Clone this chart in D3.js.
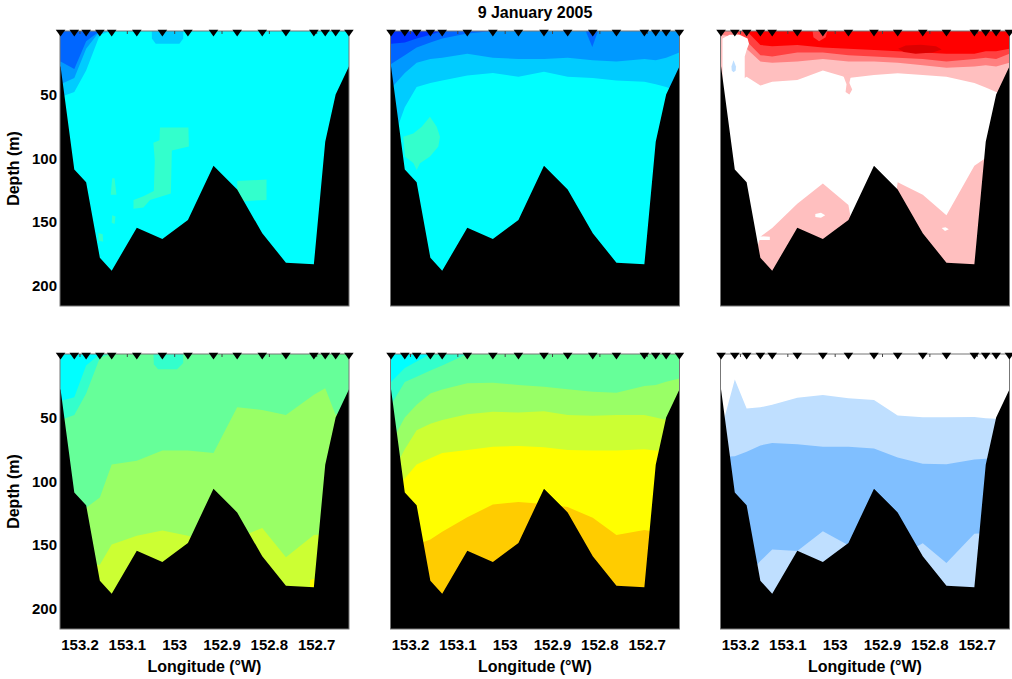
<!DOCTYPE html>
<html><head><meta charset="utf-8">
<script src="https://cdn.jsdelivr.net/npm/d3@7"></script>
<style>html,body{margin:0;padding:0;background:#fff;}svg{display:block;}text{font-family:"Liberation Sans",Arial,Helvetica,sans-serif;font-weight:bold;fill:#000;}</style>
</head><body>
<svg id="chart" width="1012" height="679"></svg>
<script>
// ---------- shared values ----------
const title = "9 January 2005";
const stationLon = [153.241,153.212,153.187,153.158,153.133,153.080,153.026,152.972,152.918,152.868,152.815,152.765,152.706,152.682,152.660,152.632];
const seafloorDepth = [28,109,119,178.5,188.7,154.9,163.8,148.8,106,124.7,159.3,182.4,183.7,87.1,49.9,28];
const lonTicks = [153.2,153.1,153,152.9,152.8,152.7];
const lonTickLabels = ["153.2","153.1","153","152.9","152.8","152.7"];
const depthTicks = [50,100,150,200];
const lonDomain = [153.2422,152.6318];
const depthDomain = [0,216.5];
const xLabel = "Longitude (\u00B0W)";
const yLabel = "Depth (m)";

// ---------- panel 1 (top left) : isoline depths at stations ----------
const p1Top00ccff = [52,48,31,3,0,0,0,0,0,0,0,0,0,0,0,0];
const p1Top0099ff = [42,37,14,0,0,0,0,0,0,0,0,0,0,0,0,0];
const p1Top0066ff = [24,30,8,0,0,0,0,0,0,0,0,0,0,0,0,0];
const p1Patch00ccff = [[153.0485,-1],[153.048,6],[153.040,10],[152.990,10],[152.982,6],[152.9817,-1]];
const p1Patch33ffccA = [[153.031,76],[152.971,76],[152.970,91],[153.006,94],[153.008,128],[153.052,133],[153.066,139],[153.087,140],[153.087,133],[153.066,130],[153.044,126],[153.042,102],[153.045,88],[153.032,86]];
const p1Patch33ffccB = [[152.868,118],[152.806,117],[152.806,133],[152.855,134],[152.868,129]];
const p1Patch33ffccC = [[153.132,116],[153.127,116],[153.123,129],[153.135,129]];
const p1Patch33ffccD = [[153.132,145],[153.125,146],[153.127,152],[153.133,151]];
const p1Patch33ffccE = [[153.161,159],[153.152,160],[153.151,166],[153.161,165]];

// ---------- panel 2 (top middle) ----------
const p2Top00ccff = [90,60,44,41,39,35,33,36,32,36,37,39,40,42,44,48];
const p2Top0099ff = [45,33,25,22,21,18,21,22,22,21,23,24,22,23,21,17];
const p2Top0066ff = [26,19,13,9,6,2,0,0,0,0,0,0,0,0,0,0];
const p2Top0033ff = [10,9,6,3,0,0,0,0,0,0,0,0,0,0,0,0];
const p2Patch0066ff = [[152.831,-1],[152.816,12.5],[152.803,-1]];
const p2Patch33ffcc = [[153.1588,67.5],[153.1446,75.3],[153.1376,83.2],[153.1412,91],[153.1588,98.9],[153.1799,104.2],[153.1869,109.4],[153.194,104],[153.2116,98.9],[153.2152,83.2],[153.194,80.6],[153.1763,75.3]];

// ---------- panel 3 (top right) ----------
const p3TopFFBFBF = [45,42,36,43,40,38.6,31,37,34.6,33.3,34.6,36,41,44.4,48,52];
const p3TopFF8080 = [3,5,14,24,25,24,22,24,24,25,27,29,28,27,28,25];
const p3TopFF4040 = [0,0,8,19,20,17,17,19,20,21,22,24,22,21,22,18];
const p3TopFF0000 = [0,0,0,11,12,11,13,14,15,16,17,18,18,16,16,14];
const p3BotFFBFBF = [250,250,200,162,155,136,120,137,250,119,129,145,106,100,100,100];
const p3PatchWhiteColumn = [[153.238,6],[153.223,3],[153.202,3],[153.185,6],[153.182,10],[153.187,15],[153.191,20],[153.191,40],[153.187,60],[153.238,60]];
const p3PatchBlueDrop = [[153.2147,23],[153.2095,28],[153.210,31],[153.2147,32.5],[153.2185,31],[153.219,28]];
const p3PatchFF4040 = [[153.048,-1],[153.046,5],[153.034,8],[153.020,5],[153.016,-1]];
const p3PatchDD0000 = [[152.867,14],[152.851,11.5],[152.819,10.8],[152.787,12],[152.775,14.5],[152.794,17],[152.830,18],[152.855,16.5]];
const p3PatchDrip = [[152.984,34],[152.976,42],[152.978,48],[152.970,50],[152.964,46],[152.970,41],[152.966,34]];
const p3SpeckA = [[153.042,144],[153.030,143],[153.021,145],[153.030,147],[153.042,146.5]];
const p3SpeckB = [[152.775,155],[152.767,154.5],[152.760,156],[152.768,157.5]];
const p3SpeckC = [[153.162,161.5],[153.138,162],[153.138,164.5],[153.162,164.5]];

// ---------- panel 4 (bottom left) ----------
const p4Bot99ff66 = [130,125,121,113,87,84,76,76,78,42,44,48,32,27,48,40];
const p4BotCcff33 = [250,250,166,166,150,143,139,143,150,145,137,160,142.5,142,142,142];
const p4Top33ffcc = [52,48,31,3,0,0,0,0,0,0,0,0,0,0,0,0];
const p4Top00ffff = [37,34,9,0,0,0,0,0,0,0,0,0,0,0,0,0];
const p4Patch33ffcc = [[153.045,-1],[153.044,8],[153.035,12],[152.995,12],[152.982,7],[152.982,-1]];
const p4PatchFfff00 = [[152.714,178],[152.706,177],[152.702,186],[152.714,186]];

// ---------- panel 5 (bottom middle) ----------
const p5Bot99ff66 = [70,50,40,31,28,23,22.6,24.4,25.7,27.8,29.7,30.5,25.2,24.4,21.8,19.2];
const p5BotCcff33 = [95,75,60,55,52,47.5,45.5,46,45,48,48.6,48,48,50,52,52];
const p5BotFfff00 = [110,98,87,82,78,75.6,73,72.5,73.5,75.6,76,76,75,76,76,76];
const p5BotFfcc00 = [250,250,150,146,140,128.5,118.5,116.5,118,120.5,129,142.5,138.6,140,140,140];
const p5Top33ffcc = [40,22,18,13,9,0,0,0,0,0,0,0,0,0,0,0];
const p5Top00ffff = [22,11,6,0,0,0,0,0,0,0,0,0,0,0,0,0];

// ---------- panel 6 (bottom right) ----------
const p6BotBfdfffUpper = [60,20,43,42,40,34.5,32.3,34.8,36.3,48.5,49.8,49.8,49.5,50.5,51,52];
const p6Bot80bfff = [81,80.5,77,72,70,71,73,73,74.3,81.5,86.5,86.8,83,82.5,82,82];
const p6BotBfdfffLower = [250,250,175,163,154,155,139.5,150.5,200,160,149,164.5,141.5,141,141,141];

// ---------- build panel table ----------
const panels = [
  {col:0,row:0,base:'#00ffff',
   layers:[{side:'top',color:'#00ccff',depths:p1Top00ccff},{side:'top',color:'#0099ff',depths:p1Top0099ff},{side:'top',color:'#0066ff',depths:p1Top0066ff}],
   patches:[{color:'#00ccff',pts:p1Patch00ccff},{color:'#33ffcc',pts:p1Patch33ffccA},{color:'#33ffcc',pts:p1Patch33ffccB},{color:'#33ffcc',pts:p1Patch33ffccC},{color:'#33ffcc',pts:p1Patch33ffccD},{color:'#33ffcc',pts:p1Patch33ffccE}]},
  {col:1,row:0,base:'#00ffff',
   layers:[{side:'top',color:'#00ccff',depths:p2Top00ccff},{side:'top',color:'#0099ff',depths:p2Top0099ff},{side:'top',color:'#0066ff',depths:p2Top0066ff},{side:'top',color:'#0033ff',depths:p2Top0033ff}],
   patches:[{color:'#0066ff',pts:p2Patch0066ff},{color:'#33ffcc',pts:p2Patch33ffcc}]},
  {col:2,row:0,base:'#ffffff',
   layers:[{side:'bot',color:'#ffbfbf',depths:p3BotFFBFBF},{side:'top',color:'#ffbfbf',depths:p3TopFFBFBF},{side:'top',color:'#ff8080',depths:p3TopFF8080},{side:'top',color:'#ff4040',depths:p3TopFF4040},{side:'top',color:'#ff0000',depths:p3TopFF0000}],
   patches:[{color:'#ffffff',pts:p3PatchWhiteColumn},{color:'#bfdfff',pts:p3PatchBlueDrop},{color:'#ff4040',pts:p3PatchFF4040},{color:'#dd0000',pts:p3PatchDD0000},{color:'#ffbfbf',pts:p3PatchDrip},{color:'#ffffff',pts:p3SpeckA},{color:'#ffffff',pts:p3SpeckB},{color:'#ffffff',pts:p3SpeckC}]},
  {col:0,row:1,base:'#66ff99',
   layers:[{side:'bot',color:'#99ff66',depths:p4Bot99ff66},{side:'bot',color:'#ccff33',depths:p4BotCcff33},{side:'top',color:'#33ffcc',depths:p4Top33ffcc},{side:'top',color:'#00ffff',depths:p4Top00ffff}],
   patches:[{color:'#33ffcc',pts:p4Patch33ffcc},{color:'#ffff00',pts:p4PatchFfff00}]},
  {col:1,row:1,base:'#66ff99',
   layers:[{side:'bot',color:'#99ff66',depths:p5Bot99ff66},{side:'bot',color:'#ccff33',depths:p5BotCcff33},{side:'bot',color:'#ffff00',depths:p5BotFfff00},{side:'bot',color:'#ffcc00',depths:p5BotFfcc00},{side:'top',color:'#33ffcc',depths:p5Top33ffcc},{side:'top',color:'#00ffff',depths:p5Top00ffff}],
   patches:[]},
  {col:2,row:1,base:'#ffffff',
   layers:[{side:'bot',color:'#bfdfff',depths:p6BotBfdfffUpper},{side:'bot',color:'#80bfff',depths:p6Bot80bfff},{side:'bot',color:'#bfdfff',depths:p6BotBfdfffLower}],
   patches:[]}
];

// ---------- drawing ----------
const svg = d3.select('#chart');
const PW = 289, PH = 275;
const panelLeft = [60, 390.5, 720.5];
const panelTop = [31, 354];
const xS = d3.scaleLinear().domain(lonDomain).range([0, PW]);
const yS = d3.scaleLinear().domain(depthDomain).range([0, PH]);

function withEdges(vals){
  const pts = stationLon.map((lon,i)=>[lon, vals[i]]);
  return [[lonDomain[0]+0.02, vals[0]], ...pts, [lonDomain[1]-0.02, vals[vals.length-1]]];
}
const topArea = d3.area().x(d=>xS(d[0])).y0(-3).y1(d=>yS(d[1]));
const botArea = d3.area().x(d=>xS(d[0])).y0(d=>yS(d[1])).y1(PH+3);
const patchLine = d3.line().x(d=>xS(d[0])).y(d=>yS(d[1])).curve(d3.curveLinearClosed);

panels.forEach((p,k)=>{
  const g = svg.append('g').attr('transform',`translate(${panelLeft[p.col]},${panelTop[p.row]})`);
  const cid = 'clip'+k;
  g.append('clipPath').attr('id',cid).append('rect').attr('width',PW).attr('height',PH);
  const c = g.append('g').attr('clip-path',`url(#${cid})`);
  c.append('rect').attr('width',PW).attr('height',PH).attr('fill',p.base);
  p.layers.forEach(L=>{
    c.append('path').attr('d',(L.side==='top'?topArea:botArea)(withEdges(L.depths))).attr('fill',L.color);
  });
  p.patches.forEach(P=>{
    c.append('path').attr('d',patchLine(P.pts)).attr('fill',P.color);
  });
  c.append('path').attr('d',botArea(withEdges(seafloorDepth))).attr('fill','#000');

  // frame
  g.append('rect').attr('width',PW).attr('height',PH).attr('fill','none').attr('stroke','#777').attr('stroke-width',1);
  // top ticks
  g.selectAll('line.tt').data(lonTicks).enter().append('line')
    .attr('x1',d=>xS(d)).attr('x2',d=>xS(d)).attr('y1',0).attr('y2',3)
    .attr('stroke','#444').attr('stroke-width',1);
  // station markers
  g.selectAll('path.st').data(stationLon).enter().append('path')
    .attr('transform',d=>`translate(${xS(d)},${yS(0)})`)
    .attr('d','M-4.8,-1.2L4.8,-1.2L0,5.6Z').attr('fill','#000');

  if(p.col===0){
    g.selectAll('text.yt').data(depthTicks).enter().append('text')
      .attr('x',-3).attr('y',d=>yS(d)+5.5).attr('text-anchor','end')
      .style('font-size','15px').text(d=>d);
    svg.append('text').attr('transform',`translate(18.5,${panelTop[p.row]+PH/2}) rotate(-90)`)
      .attr('text-anchor','middle').style('font-size','16px').text(yLabel);
  }
  if(p.row===1){
    g.selectAll('text.xt').data(lonTicks).enter().append('text')
      .attr('x',d=>xS(d)).attr('y',PH+21).attr('text-anchor','middle')
      .style('font-size','15px').text((d,i)=>lonTickLabels[i]);
    g.append('text').attr('x',PW/2).attr('y',PH+42.5).attr('text-anchor','middle')
      .style('font-size','16px').text(xLabel);
  }
});

svg.append('text').attr('x',panelLeft[1]+PW/2).attr('y',17.5).attr('text-anchor','middle')
  .style('font-size','16px').text(title);
</script>
</body></html>
